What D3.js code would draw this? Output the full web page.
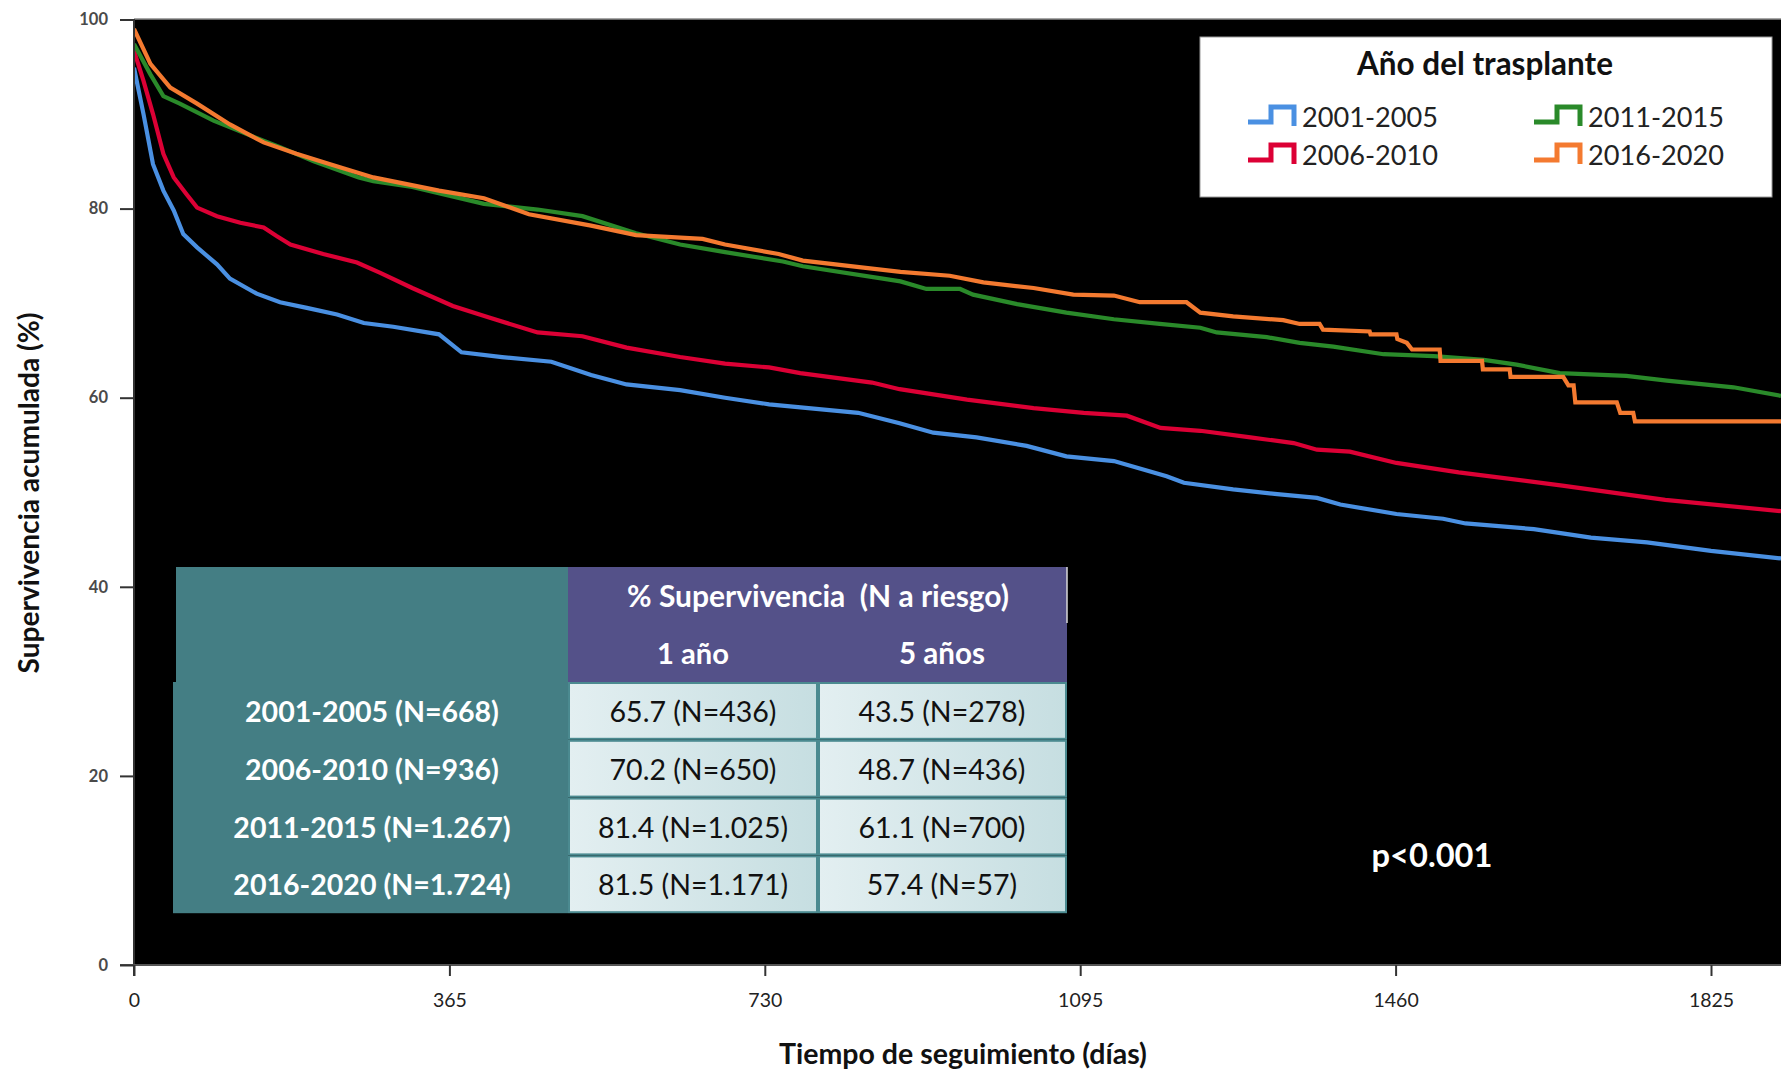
<!DOCTYPE html>
<html><head><meta charset="utf-8">
<script src="https://cdn.jsdelivr.net/npm/d3@7"></script>
<style>
body{margin:0;background:#fff;}
svg{display:block;}
text{font-family:Lato,"Open Sans",sans-serif;white-space:pre;}
</style>
</head><body>
<svg id="chart" width="1781" height="1071"></svg>
<script>
// ---------------- DATA ----------------
const seriesNames = ["2001-2005","2006-2010","2011-2015","2016-2020"];
const seriesColors = ["#4A90E2","#DC0035","#2A8A2A","#F47A30"];

const days2001 = [0,11,22,34,46,57,73,96,111,142,169,200,235,266,300,353,379,426,483,529,570,632,684,735,838,886,925,975,1033,1079,1134,1195,1215,1272,1323,1369,1396,1461,1515,1541,1620,1686,1751,1825,1906];
const surv2001 = [94.9,90.0,84.7,81.9,79.8,77.3,75.9,74.1,72.6,71.0,70.1,69.5,68.8,67.9,67.5,66.7,64.8,64.3,63.8,62.4,61.4,60.8,60.0,59.3,58.4,57.3,56.3,55.8,54.9,53.8,53.3,51.7,51.0,50.3,49.8,49.4,48.7,47.7,47.2,46.7,46.1,45.2,44.7,43.8,43.0];

const days2006 = [0,11,22,34,46,61,73,96,123,150,165,181,219,258,285,322,369,410,467,519,570,632,684,735,771,854,886,964,1041,1099,1149,1188,1234,1292,1342,1369,1407,1461,1533,1653,1772,1906];
const surv2006 = [96.7,93.5,90.0,85.8,83.3,81.5,80.1,79.2,78.5,78.0,77.1,76.2,75.2,74.3,73.2,71.6,69.7,68.5,66.9,66.5,65.3,64.3,63.6,63.2,62.6,61.6,60.9,59.8,58.9,58.4,58.1,56.8,56.5,55.8,55.2,54.5,54.3,53.1,52.1,50.7,49.2,48.0];

const days2011 = [0,19,34,53,92,130,169,208,260,277,322,405,467,519,581,632,684,751,774,887,917,956,971,1022,1079,1134,1187,1234,1253,1311,1349,1388,1446,1504,1562,1600,1650,1727,1774,1851,1906];
const surv2011 = [97.4,94.2,91.9,91.1,89.3,87.9,86.5,85.0,83.3,82.9,82.3,80.5,79.9,79.2,77.4,76.2,75.4,74.4,73.9,72.3,71.5,71.5,70.9,69.9,69.0,68.3,67.8,67.4,66.9,66.4,65.8,65.4,64.6,64.4,64.0,63.5,62.6,62.3,61.8,61.1,60.2];

const days2016 = [0,19,42,73,111,150,188,227,277,353,405,457,529,581,658,684,746,774,887,944,983,1041,1087,1134,1164,1218,1234,1272,1330,1349,1372,1376,1430,1431,1461,1462,1473,1479,1511,1512,1560,1561,1592,1593,1654,1660,1666,1668,1716,1720,1735,1737,1906];
const surv2016 = [99.0,95.3,92.8,91.1,88.9,87.0,85.8,84.7,83.3,81.9,81.1,79.4,78.2,77.2,76.8,76.2,75.2,74.5,73.3,72.9,72.2,71.6,70.9,70.8,70.1,70.1,69.0,68.6,68.2,67.8,67.8,67.2,67.0,66.7,66.7,66.2,65.8,65.1,65.1,63.9,63.9,63.0,63.0,62.2,62.2,61.3,61.3,59.5,59.5,58.4,58.4,57.5,57.5];

const xTicks = [0,365,730,1095,1460,1825];
const yTicks = [0,20,40,60,80,100];

const tableTitle = "% Supervivencia  (N a riesgo)";
const tableCols = ["1 año","5 años"];
const tableRows = ["2001-2005 (N=668)","2006-2010 (N=936)","2011-2015 (N=1.267)","2016-2020 (N=1.724)"];
const oneYear = ["65.7 (N=436)","70.2 (N=650)","81.4 (N=1.025)","81.5 (N=1.171)"];
const fiveYear = ["43.5 (N=278)","48.7 (N=436)","61.1 (N=700)","57.4 (N=57)"];

const legendTitle = "Año del trasplante";
const pText = "p<0.001";
const xTitle = "Tiempo de seguimiento (días)";
const yTitle = "Supervivencia acumulada (%)";

// ---------------- DRAW ----------------
const W = 1781, H = 1071;
const svg = d3.select("#chart");
const L = 134, T = 19, R = 1781, B = 965;

const x = d3.scaleLinear().domain([0,1825]).range([134,1711]);
const y = d3.scaleLinear().domain([0,100]).range([965,19.5]);

function fit(sel, target){
  const w = sel.node().getComputedTextLength();
  const fs = parseFloat(sel.attr("font-size"));
  const nfs = fs*target/w;
  sel.attr("font-size", nfs);
  return nfs;
}

svg.append("rect").attr("width",W).attr("height",H).attr("fill","#fff");
svg.append("rect").attr("x",L).attr("y",T).attr("width",R-L).attr("height",B-T).attr("fill","#000");
svg.append("line").attr("x1",L).attr("x2",R).attr("y1",T).attr("y2",T).attr("stroke","#8a8a8a").attr("stroke-width",1.5);

const defs = svg.append("defs");
defs.append("clipPath").attr("id","clip").append("rect")
  .attr("x",L).attr("y",T).attr("width",R-L).attr("height",B-T);
const grad = defs.append("linearGradient").attr("id","cellGrad").attr("x1","0%").attr("x2","100%").attr("y1","0%").attr("y2","0%");
grad.append("stop").attr("offset","0%").attr("stop-color","#E3EFF1");
grad.append("stop").attr("offset","100%").attr("stop-color","#C6DEE1");

// curves
const allDays = [days2001,days2006,days2011,days2016];
const allSurv = [surv2001,surv2006,surv2011,surv2016];
const line = d3.line().x(d=>x(d[0])).y(d=>y(d[1]));
const gc = svg.append("g").attr("clip-path","url(#clip)");
allDays.forEach((dd,i)=>{
  gc.append("path").datum(d3.zip(dd, allSurv[i]))
    .attr("d", line).attr("fill","none")
    .attr("stroke", seriesColors[i]).attr("stroke-width",4.2)
    .attr("stroke-linejoin","miter");
});

// axes
svg.append("line").attr("x1",L).attr("x2",L).attr("y1",T).attr("y2",B+11).attr("stroke","#333").attr("stroke-width",2);
svg.append("line").attr("x1",L-14).attr("x2",R).attr("y1",B).attr("y2",B).attr("stroke","#555").attr("stroke-width",2);

const gy = svg.append("g").attr("transform",`translate(${L},0)`)
  .call(d3.axisLeft(y).tickValues(yTicks).tickSize(14).tickPadding(12).tickFormat(d3.format("d")));
gy.select(".domain").remove();
gy.selectAll(".tick line").attr("stroke","#333").attr("stroke-width",2);
gy.selectAll(".tick text").attr("font-family","DejaVu Sans").attr("font-weight","bold")
  .attr("font-size",16.5).attr("fill","#4a4a4a");

const gx = svg.append("g").attr("transform",`translate(0,${B})`)
  .call(d3.axisBottom(x).tickValues(xTicks).tickSize(11).tickPadding(17).tickFormat(d3.format("d")));
gx.select(".domain").remove();
gx.selectAll(".tick line").attr("stroke","#333").attr("stroke-width",2);
gx.selectAll(".tick text").attr("font-family","Lato").attr("font-size",19.5).attr("fill","#222");

// axis titles
const yt = svg.append("text").attr("transform","translate(28,493) rotate(-90)")
  .attr("text-anchor","middle").attr("dominant-baseline","central")
  .attr("font-weight","bold").attr("font-size",24).attr("fill","#111").text(yTitle);
fit(yt, 361);
const xt = svg.append("text").attr("x",963).attr("y",1064).attr("text-anchor","middle")
  .attr("font-weight","bold").attr("font-size",24).attr("fill","#111").text(xTitle);
fit(xt, 368);

// legend
svg.append("rect").attr("x",1200).attr("y",37).attr("width",572).attr("height",160)
  .attr("fill","#fff").attr("stroke","#999").attr("stroke-width",1);
const lt = svg.append("text").attr("x",1485).attr("y",75).attr("text-anchor","middle")
  .attr("font-weight","bold").attr("font-size",26).attr("fill","#111").text(legendTitle);
fit(lt, 256);
const legPos = [[1248,127],[1248,165],[1534,127],[1534,165]];
let legFs = null;
seriesNames.forEach((n,i)=>{
  const [sx,by] = legPos[i];
  svg.append("path").attr("d",`M${sx},${by-5}H${sx+23}V${by-20}H${sx+46}V${by-1}`)
    .attr("fill","none").attr("stroke",seriesColors[i]).attr("stroke-width",5);
  const t = svg.append("text").attr("x",sx+54).attr("y",by).attr("font-size",27).attr("fill","#222").text(n);
  if(legFs===null) legFs = fit(t,136); else t.attr("font-size",legFs);
});

// table
const tx0 = 174, tx1 = 568, tx2 = 818, tx3 = 1067;
const ty0 = 567, ty1 = 682, rowH = 57.8;
svg.append("rect").attr("x",176).attr("y",ty0).attr("width",tx1-176).attr("height",ty1-ty0).attr("fill","#447E84");
svg.append("rect").attr("x",tx0-1).attr("y",ty1).attr("width",tx1-tx0+1).attr("height",rowH*4).attr("fill","#447E84");
svg.append("rect").attr("x",tx1).attr("y",ty0).attr("width",tx3-tx1).attr("height",ty1-ty0).attr("fill","#545189");
svg.append("line").attr("x1",tx3).attr("x2",tx3).attr("y1",ty0).attr("y2",ty0+56).attr("stroke","#d8d8d8").attr("stroke-width",1.5);

const h1 = svg.append("text").attr("x",818).attr("y",607).attr("text-anchor","middle")
  .attr("font-weight","bold").attr("font-size",26).attr("fill","#fff").text(tableTitle);
fit(h1, 382);
const colC = [693, 942];
const cw = [72, 86];
tableCols.forEach((c,i)=>{
  const t = svg.append("text").attr("x",colC[i]).attr("y",664).attr("text-anchor","middle")
    .attr("font-weight","bold").attr("font-size",26).attr("fill","#fff").text(c);
  fit(t, cw[i]);
});

let rowFs = null, cellFs = null;
tableRows.forEach((r,i)=>{
  const yTop = ty1 + i*rowH;
  const base = yTop + 40;
  [tx1, tx2].forEach((cx,j)=>{
    svg.append("rect").attr("x",cx+1).attr("y",yTop+1).attr("width",(j===0?tx2-tx1:tx3-tx2)-2).attr("height",rowH-2)
      .attr("fill","url(#cellGrad)").attr("stroke","#4B8A90").attr("stroke-width",2);
  });
  const rt = svg.append("text").attr("x",372).attr("y",base).attr("text-anchor","middle")
    .attr("font-weight","bold").attr("font-size",27).attr("fill","#fff").text(r);
  if(rowFs===null) rowFs = fit(rt,254); else rt.attr("font-size",rowFs);
  const c1 = svg.append("text").attr("x",colC[0]).attr("y",base).attr("text-anchor","middle")
    .attr("font-size",27).attr("fill","#111").text(oneYear[i]);
  if(cellFs===null) cellFs = fit(c1,167); else c1.attr("font-size",cellFs);
  svg.append("text").attr("x",colC[1]).attr("y",base).attr("text-anchor","middle")
    .attr("font-size",cellFs).attr("fill","#111").text(fiveYear[i]);
});

// p-value
const pt = svg.append("text").attr("x",1432).attr("y",867).attr("text-anchor","middle")
  .attr("font-weight","bold").attr("font-size",32).attr("fill","#fff").text(pText);
fit(pt, 121);
</script>
</body></html>
